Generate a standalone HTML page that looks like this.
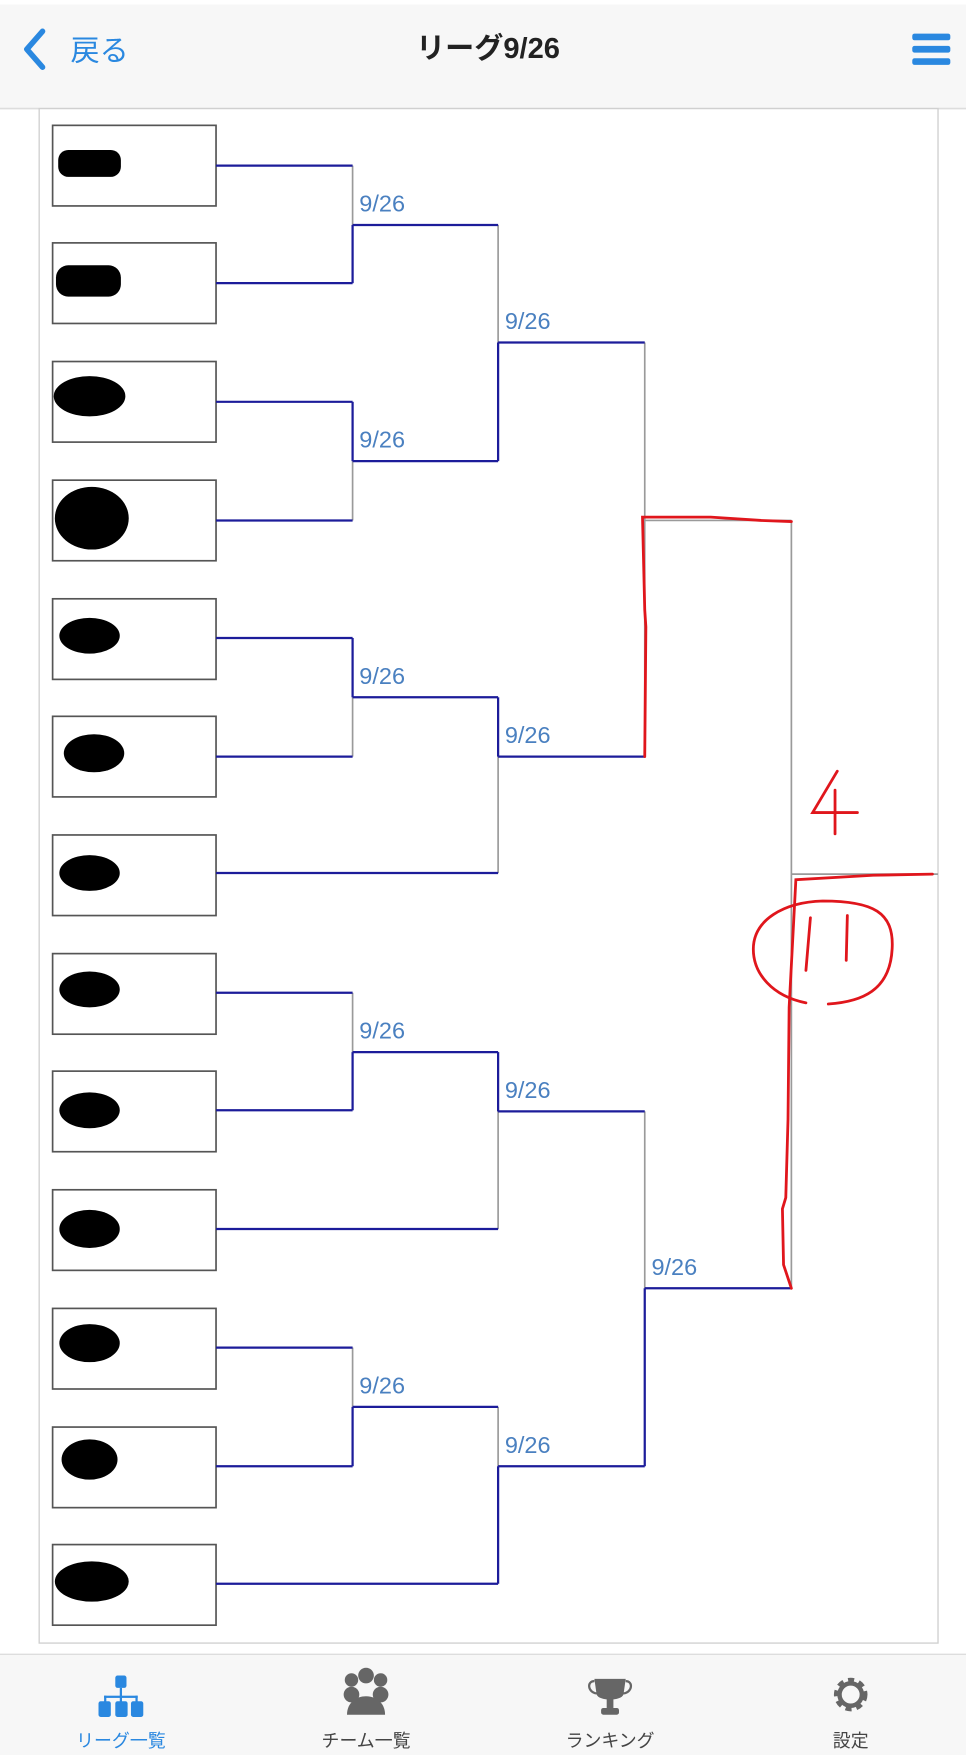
<!DOCTYPE html>
<html><head><meta charset="utf-8"><style>
html,body{margin:0;padding:0;background:#fff;}
svg{display:block;}
</style></head><body>
<svg width="966" height="1755" viewBox="0 0 863 1568" preserveAspectRatio="none" xmlns="http://www.w3.org/2000/svg" font-family="Liberation Sans, Noto Sans CJK JP, sans-serif">
<rect x="0" y="0" width="863" height="1568" fill="#fff"/>
<!-- header -->
<rect x="0" y="0" width="863" height="97" fill="#f7f7f7"/>
<rect x="0" y="0" width="863" height="4" fill="#fff"/>
<line x1="0" y1="97" x2="863" y2="97" stroke="#ddd" stroke-width="1.5"/>
<polyline points="38,28 24,44 38,60" fill="none" stroke="#2a88e0" stroke-width="5" stroke-linecap="round" stroke-linejoin="round"/>
<text x="63" y="54" font-size="26" fill="#2a88e0">戻る</text>
<text x="436" y="52" font-size="26" fill="#222" text-anchor="middle" font-weight="bold">リーグ9/26</text>
<rect x="815" y="30" width="34" height="6" rx="2" fill="#2a88e0"/>
<rect x="815" y="41" width="34" height="6" rx="2" fill="#2a88e0"/>
<rect x="815" y="52" width="34" height="6" rx="2" fill="#2a88e0"/>
<!-- panel -->
<rect x="35" y="97" width="803" height="1371" fill="#fff" stroke="#d0d0d0" stroke-width="1.2"/>
<!-- boxes -->
<g fill="#fff" stroke="#555" stroke-width="1.5">
<rect x="47" y="112" width="146" height="72"/>
<rect x="47" y="217" width="146" height="72"/>
<rect x="47" y="323" width="146" height="72"/>
<rect x="47" y="429" width="146" height="72"/>
<rect x="47" y="535" width="146" height="72"/>
<rect x="47" y="640" width="146" height="72"/>
<rect x="47" y="746" width="146" height="72"/>
<rect x="47" y="852" width="146" height="72"/>
<rect x="47" y="957" width="146" height="72"/>
<rect x="47" y="1063" width="146" height="72"/>
<rect x="47" y="1169" width="146" height="72"/>
<rect x="47" y="1275" width="146" height="72"/>
<rect x="47" y="1380" width="146" height="72"/>
</g>
<g fill="#000">
<rect x="52" y="134" width="56" height="24" rx="9"/>
<rect x="50" y="237" width="58" height="28" rx="11"/>
<ellipse cx="80" cy="354" rx="32" ry="18"/>
<ellipse cx="82" cy="463" rx="33" ry="28"/>
<ellipse cx="80" cy="568" rx="27" ry="16"/>
<ellipse cx="84" cy="673" rx="27" ry="17"/>
<ellipse cx="80" cy="780" rx="27" ry="16"/>
<ellipse cx="80" cy="884" rx="27" ry="16"/>
<ellipse cx="80" cy="992" rx="27" ry="16"/>
<ellipse cx="80" cy="1098" rx="27" ry="17"/>
<ellipse cx="80" cy="1200" rx="27" ry="17"/>
<ellipse cx="80" cy="1304" rx="25" ry="18"/>
<ellipse cx="82" cy="1413" rx="33" ry="18"/>
</g>
<!-- gray lines -->
<g stroke="#9a9a9a" stroke-width="1.5" fill="none">
<line x1="315" y1="148" x2="315" y2="201"/>
<line x1="315" y1="412" x2="315" y2="465"/>
<line x1="315" y1="623" x2="315" y2="676"/>
<line x1="315" y1="887" x2="315" y2="940"/>
<line x1="315" y1="1204" x2="315" y2="1257"/>
<line x1="445" y1="201" x2="445" y2="306"/>
<line x1="445" y1="676" x2="445" y2="780"/>
<line x1="445" y1="993" x2="445" y2="1098"/>
<line x1="445" y1="1257" x2="445" y2="1310"/>
<line x1="576" y1="306" x2="576" y2="465"/>
<line x1="576" y1="465" x2="576" y2="676"/>
<line x1="576" y1="993" x2="576" y2="1151"/>
<line x1="576" y1="465" x2="707" y2="465"/>
<line x1="707" y1="465" x2="707" y2="1151"/>
<line x1="707" y1="781" x2="838" y2="781"/>
</g>
<!-- blue lines -->
<g stroke="#1c1c9a" stroke-width="2" fill="none">
<line x1="193" y1="148" x2="315" y2="148"/>
<line x1="193" y1="253" x2="315" y2="253"/>
<line x1="193" y1="359" x2="315" y2="359"/>
<line x1="193" y1="465" x2="315" y2="465"/>
<line x1="193" y1="570" x2="315" y2="570"/>
<line x1="193" y1="676" x2="315" y2="676"/>
<line x1="193" y1="780" x2="445" y2="780"/>
<line x1="193" y1="887" x2="315" y2="887"/>
<line x1="193" y1="992" x2="315" y2="992"/>
<line x1="193" y1="1098" x2="445" y2="1098"/>
<line x1="193" y1="1204" x2="315" y2="1204"/>
<line x1="193" y1="1310" x2="315" y2="1310"/>
<line x1="193" y1="1415" x2="445" y2="1415"/>
<line x1="315" y1="201" x2="315" y2="253"/>
<line x1="315" y1="359" x2="315" y2="412"/>
<line x1="315" y1="570" x2="315" y2="623"/>
<line x1="315" y1="940" x2="315" y2="992"/>
<line x1="315" y1="1257" x2="315" y2="1310"/>
<line x1="315" y1="201" x2="445" y2="201"/>
<line x1="315" y1="412" x2="445" y2="412"/>
<line x1="315" y1="623" x2="445" y2="623"/>
<line x1="315" y1="940" x2="445" y2="940"/>
<line x1="315" y1="1257" x2="445" y2="1257"/>
<line x1="445" y1="306" x2="445" y2="412"/>
<line x1="445" y1="623" x2="445" y2="676"/>
<line x1="445" y1="940" x2="445" y2="993"/>
<line x1="445" y1="1310" x2="445" y2="1415"/>
<line x1="445" y1="306" x2="576" y2="306"/>
<line x1="445" y1="676" x2="576" y2="676"/>
<line x1="445" y1="993" x2="576" y2="993"/>
<line x1="445" y1="1310" x2="576" y2="1310"/>
<line x1="576" y1="1151" x2="576" y2="1310"/>
<line x1="576" y1="1151" x2="707" y2="1151"/>
</g>
<!-- labels -->
<g font-size="21" fill="#4a80c0">
<text x="321" y="189">9/26</text>
<text x="451" y="294">9/26</text>
<text x="321" y="400">9/26</text>
<text x="321" y="611">9/26</text>
<text x="451" y="664">9/26</text>
<text x="321" y="928">9/26</text>
<text x="451" y="981">9/26</text>
<text x="582" y="1139">9/26</text>
<text x="321" y="1245">9/26</text>
<text x="451" y="1298">9/26</text>
</g>
<!-- red annotations -->
<g stroke="#e0161c" stroke-width="2.5" fill="none" stroke-linecap="round">
<polyline points="576,676 577,560 576,545 574,462 635,462 680,465 707,466"/>
<polyline points="707,1151 700,1130 699,1080 702,1070 704,1000 705,900 711,786 780,782 833,781"/>
<path d="M740,897 C770,895 795,885 797,848 C799,815 780,805 735,805 C700,806 673,822 673,848 C673,870 690,890 720,896"/>
<path d="M724,820 L720,867 M757,818 L756,858"/>
<path d="M748,689 L726,726 L766,726 M746,706 L746,745"/>
</g>
<!-- tab bar -->
<rect x="0" y="1478" width="863" height="90" fill="#f7f7f7"/>
<line x1="0" y1="1478" x2="863" y2="1478" stroke="#ddd" stroke-width="1.2"/>
<g fill="#2a88e0">
<rect x="103" y="1497" width="10" height="11" rx="2"/>
<rect x="107" y="1508" width="2" height="8"/>
<rect x="93" y="1515" width="30" height="2"/>
<rect x="93" y="1515" width="2" height="6"/><rect x="107" y="1515" width="2" height="6"/><rect x="121" y="1515" width="2" height="6"/>
<rect x="88" y="1520" width="11" height="14" rx="2"/><rect x="103" y="1520" width="11" height="14" rx="2"/><rect x="117" y="1520" width="11" height="14" rx="2"/>
</g>
<text x="108" y="1561" font-size="16" fill="#2a88e0" text-anchor="middle">リーグ一覧</text>
<g fill="#666">
<circle cx="314" cy="1501" r="6"/><circle cx="340" cy="1501" r="6"/><circle cx="327" cy="1497" r="7"/>
<circle cx="314" cy="1514" r="7"/><circle cx="340" cy="1514" r="7"/>
<path d="M310,1532 C310,1510 344,1510 344,1532 Z"/>
</g>
<text x="327" y="1561" font-size="16" fill="#444" text-anchor="middle">チーム一覧</text>
<g fill="#666">
<path d="M531,1500 L559,1500 L557,1514 C555,1520 535,1520 533,1514 Z"/>
<rect x="542" y="1518" width="6" height="8"/>
<rect x="537" y="1526" width="16" height="6" rx="2"/>
<path d="M531,1502 C524,1502 525,1512 533,1513" fill="none" stroke="#666" stroke-width="2"/>
<path d="M559,1502 C566,1502 565,1512 557,1513" fill="none" stroke="#666" stroke-width="2"/>
</g>
<text x="545" y="1561" font-size="16" fill="#444" text-anchor="middle">ランキング</text>
<g>
<circle cx="760" cy="1514" r="12" fill="none" stroke="#666" stroke-width="6" stroke-dasharray="5 4"/>
<circle cx="760" cy="1514" r="10" fill="none" stroke="#666" stroke-width="4"/>
</g>
<text x="760" y="1561" font-size="16" fill="#444" text-anchor="middle">設定</text>
</svg>
</body></html>
